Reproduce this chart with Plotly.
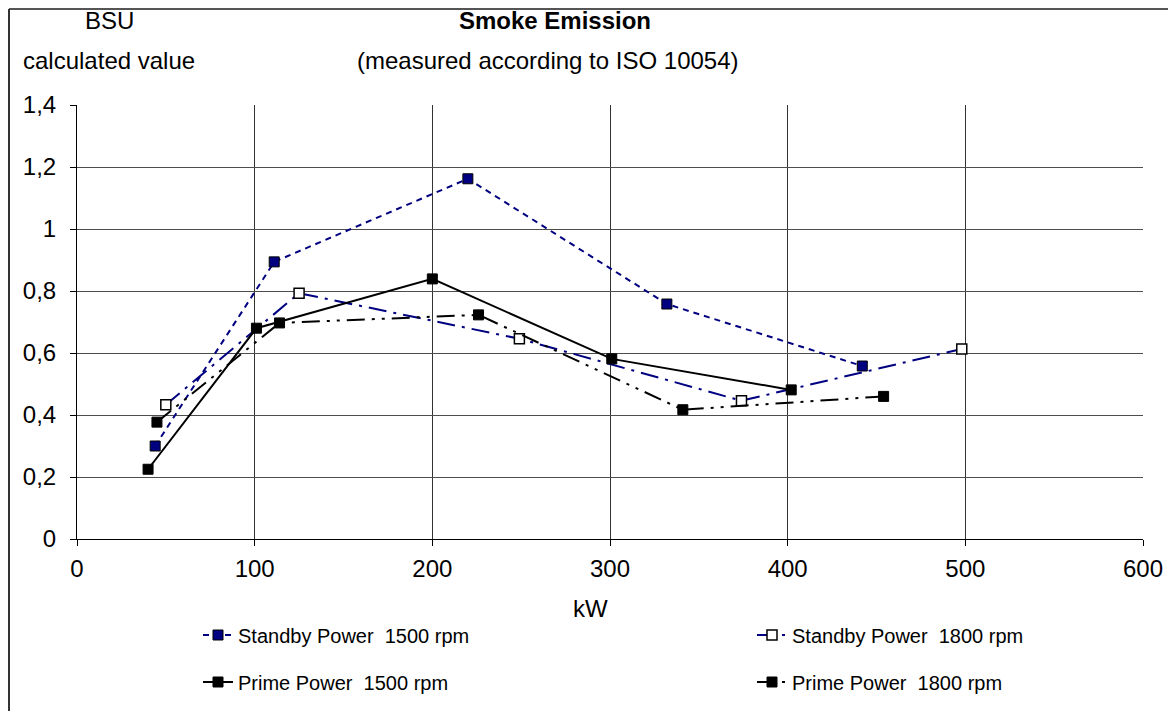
import plotly.graph_objects as go

# ---- data ----
standby_1500_kw = [44, 111, 220, 332, 442]
standby_1500_bsu = [0.30, 0.894, 1.162, 0.758, 0.558]

standby_1800_kw = [50, 125, 249, 374, 498]
standby_1800_bsu = [0.433, 0.793, 0.646, 0.446, 0.613]

prime_1500_kw = [40, 101, 200, 301, 402]
prime_1500_bsu = [0.225, 0.680, 0.839, 0.581, 0.481]

prime_1800_kw = [45, 114, 226, 341, 454]
prime_1800_bsu = [0.377, 0.697, 0.723, 0.417, 0.460]

x_ticks = [0, 100, 200, 300, 400, 500, 600]
y_ticks = [0, 0.2, 0.4, 0.6, 0.8, 1.0, 1.2, 1.4]

# ---- layout geometry ----
# the page body adds an 8px offset, so target screen pixels are shifted by OFF
W, H = 1176, 711
OFF = 8
PW, PH = 1066, 434
ML = 77 - OFF
MT = 105 - OFF
MR = W - ML - PW
MB = H - MT - PH


def px_x(p):
    return (p - OFF - ML) / PW


def px_y(p):
    return (H - MB - (p - OFF)) / PH


FONT = "Liberation Sans, Arial, sans-serif"
NAVY = "#000080"
NB = "\u00a0"

fig = go.Figure()

fig.add_trace(go.Scatter(
    x=standby_1500_kw, y=standby_1500_bsu, mode="lines+markers",
    name="Standby Power" + NB + " 1500 rpm",
    line=dict(color=NAVY, width=2, dash="6px,5px"),
    marker=dict(symbol="square", size=10, color=NAVY, line=dict(color="black", width=1)),
    legend="legend"))

fig.add_trace(go.Scatter(
    x=standby_1800_kw, y=standby_1800_bsu, mode="lines+markers",
    name="Standby Power" + NB + " 1800 rpm",
    line=dict(color=NAVY, width=2, dash="18px,7px,3px,7px"),
    marker=dict(symbol="square", size=10, color="white", line=dict(color="black", width=1.5)),
    legend="legend2"))

fig.add_trace(go.Scatter(
    x=prime_1500_kw, y=prime_1500_bsu, mode="lines+markers",
    name="Prime Power" + NB + " 1500 rpm",
    line=dict(color="black", width=2, dash="solid"),
    marker=dict(symbol="square", size=10, color="black", line=dict(color="black", width=1)),
    legend="legend3"))

fig.add_trace(go.Scatter(
    x=prime_1800_kw, y=prime_1800_bsu, mode="lines+markers",
    name="Prime Power" + NB + " 1800 rpm",
    line=dict(color="black", width=2, dash="18px,7px,3px,7px,3px,7px"),
    marker=dict(symbol="square", size=10, color="black", line=dict(color="black", width=1)),
    legend="legend4"))

leg_common = dict(font=dict(family=FONT, size=20, color="black"),
                  bgcolor="rgba(0,0,0,0)", xanchor="left", yanchor="middle",
                  itemwidth=30)

TXT = dict(family=FONT, size=24, color="black")

fig.update_layout(
    width=W, height=H,
    margin=dict(l=ML, r=MR, t=MT, b=MB, autoexpand=False),
    paper_bgcolor="white", plot_bgcolor="white",
    separators=", ",
    showlegend=True,
    font=dict(family=FONT, size=24, color="black"),
    title=dict(
        text="<b>Smoke Emission</b>",
        x=(555 - OFF) / W, xanchor="center", y=1 - (21 - OFF) / H, yanchor="middle",
        font=TXT),
    xaxis=dict(range=[0, 600], tickvals=x_ticks, showgrid=True,
               gridcolor="#333333", gridwidth=1,
               showline=True, linecolor="black", linewidth=1,
               ticks="outside", ticklen=6, tickcolor="black",
               ticklabelstandoff=2,
               zeroline=False, tickfont=dict(size=24)),
    yaxis=dict(range=[0, 1.4], tickvals=y_ticks, showgrid=True,
               gridcolor="#4d4d4d", gridwidth=1,
               showline=True, linecolor="black", linewidth=1,
               ticks="outside", ticklen=6, tickcolor="black",
               ticklabelstandoff=9,
               zeroline=False, tickfont=dict(size=24)),
    legend=dict(x=px_x(198), y=px_y(635), **leg_common),
    legend2=dict(x=px_x(752), y=px_y(635), **leg_common),
    legend3=dict(x=px_x(198), y=px_y(682), **leg_common),
    legend4=dict(x=px_x(752), y=px_y(682), **leg_common),
    annotations=[
        dict(text="(measured according to ISO 10054)", xref="paper", yref="paper",
             x=px_x(548), y=px_y(60), xanchor="center", yanchor="middle",
             showarrow=False, font=TXT),
        dict(text="BSU", xref="paper", yref="paper",
             x=px_x(109), y=px_y(21), xanchor="center", yanchor="middle",
             showarrow=False, font=TXT),
        dict(text="calculated value", xref="paper", yref="paper",
             x=px_x(109), y=px_y(60), xanchor="center", yanchor="middle",
             showarrow=False, font=TXT),
        dict(text="kW", xref="paper", yref="paper",
             x=px_x(590), y=px_y(608), xanchor="center", yanchor="middle",
             showarrow=False, font=TXT),
    ],
    shapes=[
        # outer frame (top and left edges), kept inside the figure canvas
        dict(type="line", xref="paper", yref="paper",
             x0=px_x(OFF + 1), x1=px_x(W + OFF), y0=px_y(OFF + 1), y1=px_y(OFF + 1),
             line=dict(color="#555555", width=2)),
        dict(type="line", xref="paper", yref="paper",
             x0=px_x(OFF + 1), x1=px_x(OFF + 1), y0=px_y(OFF + 1), y1=px_y(H + OFF),
             line=dict(color="#333333", width=2)),
    ],
)

fig.write_html("out.html")
